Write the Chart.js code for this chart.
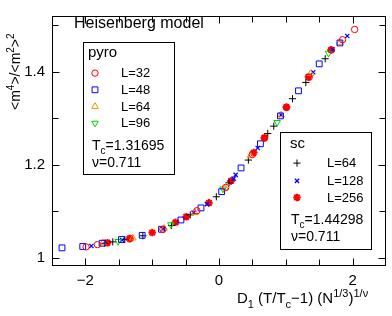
<!DOCTYPE html>
<html><head><meta charset="utf-8">
<script src="https://cdn.jsdelivr.net/npm/chart.js@4/dist/chart.umd.min.js"></script>
<style>html,body{margin:0;padding:0;background:#fff}</style>
</head><body>
<canvas id="c" width="392" height="316"></canvas>
<script>
// ---- data ----
const xLabelValues = [-2, 0, 2];
const xLabelTexts = ['\u22122', '0', '2'];
const xTickMarks = [-2, -1.5, -1, -0.5, 0, 0.5, 1, 1.5, 2];
const yLabelValues = [1, 1.2, 1.4];
const yLabelTexts = ['1', '1.2', '1.4'];
const yTickMarks = [1, 1.1, 1.2, 1.3, 1.4, 1.5];

const pyroL32 = [[-1.99,1.023],[-1.82,1.028],[-1.33,1.041],[-0.84,1.061],[-0.33,1.101],[0.10,1.151],[0.50,1.222],[0.68,1.257],[1.01,1.323],[1.35,1.388],[1.68,1.447],[1.85,1.469],[2.03,1.491]];
const pyroL48 = [[-2.35,1.021],[-2.04,1.024],[-1.75,1.031],[-1.46,1.039],[-1.15,1.048],[-0.86,1.061],[-0.57,1.081],[-0.27,1.107],[0.04,1.142],[0.33,1.193],[0.62,1.245],[0.92,1.305],[1.19,1.359],[1.50,1.417],[1.81,1.462]];
const pyroL64 = [[-1.74,1.032],[-1.29,1.042],[-0.82,1.063],[-0.36,1.097],[0.09,1.150],[0.47,1.219],[0.93,1.307],[1.37,1.396],[1.81,1.463]];
const pyroL96 = [[-1.51,1.035],[-0.72,1.071],[0.06,1.148],[0.87,1.291],[1.64,1.440]];
const scL64 = [[-1.71,1.031],[-1.59,1.034],[-1.41,1.039],[-1.14,1.047],[-0.71,1.069],[-0.43,1.092],[-0.04,1.131],[0.15,1.161],[0.44,1.210],[0.73,1.267],[0.82,1.283],[1.10,1.342],[1.30,1.377],[1.59,1.428]];
const scL128 = [[-1.91,1.025],[-1.45,1.038],[-0.84,1.062],[-0.38,1.097],[-0.18,1.115],[0.22,1.170],[0.25,1.178],[0.58,1.236],[0.93,1.307],[1.41,1.399],[1.70,1.448],[1.92,1.477]];
const scL256 = [[-1.67,1.032],[-1.34,1.041],[-1.00,1.054],[-0.65,1.076],[-0.49,1.088],[-0.15,1.118],[0.18,1.165],[0.52,1.226],[0.68,1.258],[1.01,1.324],[1.34,1.389],[1.68,1.447]];

const pyroLabels = ['L=32', 'L=48', 'L=64', 'L=96'];
const scLabels = ['L=64', 'L=128', 'L=256'];
const pyroTc = '1.31695', pyroNu = '0.711';
const scTc = '1.44298', scNu = '0.711';
const titleText = 'Heisenberg model';

// ---- styles ----
const FONT = '"Liberation Sans", Arial, Helvetica, sans-serif';
const styles = [
  {color:'#ff0000', pointStyle:'circle', radius:3.2, rotation:0, borderWidth:1},
  {color:'#0000ff', pointStyle:'rect', radius:4.1, rotation:0, borderWidth:1},
  {color:'#ff8c00', pointStyle:'triangle', radius:3.8, rotation:0, borderWidth:1},
  {color:'#00d000', pointStyle:'triangle', radius:3.8, rotation:180, borderWidth:1},
  {color:'#000000', pointStyle:'cross', radius:3.6, rotation:0, borderWidth:1},
  {color:'#0000ff', pointStyle:'crossRot', radius:3.0, rotation:0, borderWidth:1.3},
  {color:'#ff0000', pointStyle:'star', radius:3.8, rotation:0, borderWidth:2}
];
const seriesData = [pyroL32, pyroL48, pyroL64, pyroL96, scL64, scL128, scL256];
const seriesNames = ['pyro L=32','pyro L=48','pyro L=64','pyro L=96','sc L=64','sc L=128','sc L=256'];

const datasets = seriesData.map((d, i) => ({
  label: seriesNames[i],
  data: d.map(p => ({x: p[0], y: p[1]})),
  pointStyle: styles[i].pointStyle,
  pointRadius: styles[i].radius,
  pointRotation: styles[i].rotation,
  pointBorderWidth: styles[i].borderWidth,
  borderColor: styles[i].color,
  backgroundColor: 'rgba(0,0,0,0)',
  showLine: false
}));

function richText(ctx, x, y, segs, size) {
  let cx = x;
  for (const [t, k] of segs) {
    const s = k === 0 ? size : Math.round(size * 0.7);
    ctx.font = s + 'px ' + FONT;
    const dy = k === 1 ? -size * 0.42 : (k === -1 ? size * 0.28 : 0);
    ctx.fillText(t, cx, y + dy);
    cx += ctx.measureText(t).width;
  }
  return cx;
}

function drawSym(ctx, i, x, y) {
  const st = styles[i];
  ctx.save();
  ctx.strokeStyle = st.color;
  ctx.fillStyle = 'rgba(0,0,0,0)';
  ctx.lineWidth = st.borderWidth;
  Chart.helpers.drawPoint(ctx, {pointStyle: st.pointStyle, radius: st.radius, rotation: st.rotation, borderWidth: st.borderWidth}, x, y);
  ctx.restore();
}

const decor = {
  id: 'decor',
  afterDatasetsDraw(chart) {
    const ctx = chart.ctx;
    const a = chart.chartArea;
    const xs = chart.scales.x, ys = chart.scales.y;
    ctx.save();
    ctx.strokeStyle = '#000';
    ctx.lineWidth = 1;
    // frame
    const L = Math.round(a.left) + 0.5, R = Math.round(a.right) - 0.5;
    const T = Math.round(a.top) + 0.5, B = Math.round(a.bottom) - 0.5;
    ctx.strokeRect(L, T, R - L, B - T);
    // inward ticks
    ctx.beginPath();
    for (const v of xTickMarks) {
      const px = Math.round(xs.getPixelForValue(v)) + 0.5;
      const len = xLabelValues.includes(v) ? 7 : 6;
      ctx.moveTo(px, B); ctx.lineTo(px, B - len);
      ctx.moveTo(px, T); ctx.lineTo(px, T + len);
    }
    for (const v of yTickMarks) {
      const py = Math.round(ys.getPixelForValue(v)) + 0.5;
      const len = yLabelValues.includes(v) ? 7 : 6;
      ctx.moveTo(L, py); ctx.lineTo(L + len, py);
      ctx.moveTo(R, py); ctx.lineTo(R - len, py);
    }
    ctx.stroke();

    ctx.fillStyle = '#000';
    ctx.textBaseline = 'alphabetic';
    ctx.textAlign = 'left';
    // title
    ctx.font = '16px ' + FONT;
    ctx.fillText(titleText, 74, 28);

    // pyro box
    ctx.fillStyle = '#fff';
    ctx.fillRect(83.5, 42.5, 91, 132);
    ctx.strokeRect(83.5, 42.5, 91, 132);
    ctx.fillStyle = '#000';
    ctx.font = '15px ' + FONT;
    ctx.fillText('pyro', 88, 57);
    const pyBase = [77.3, 94, 110.7, 127.3];
    for (let i = 0; i < 4; i++) {
      drawSym(ctx, i, 95, pyBase[i] - 4.2);
      ctx.fillStyle = '#000';
      ctx.font = '13px ' + FONT;
      ctx.fillText(pyroLabels[i], 121, pyBase[i]);
    }
    richText(ctx, 92, 150, [['T',0],['c',-1],['=' + pyroTc,0]], 14);
    richText(ctx, 92, 166.7, [['\u03bd=' + pyroNu,0]], 14);

    // sc box
    ctx.fillStyle = '#fff';
    ctx.fillRect(280.5, 132.5, 91, 117);
    ctx.strokeRect(280.5, 132.5, 91, 117);
    ctx.fillStyle = '#000';
    ctx.font = '15px ' + FONT;
    ctx.fillText('sc', 290, 148.3);
    const scBase = [167.3, 185, 201.7];
    for (let i = 0; i < 3; i++) {
      drawSym(ctx, 4 + i, 297, scBase[i] - 4.2);
      ctx.fillStyle = '#000';
      ctx.font = '13px ' + FONT;
      ctx.fillText(scLabels[i], 327, scBase[i]);
    }
    richText(ctx, 291, 224, [['T',0],['c',-1],['=' + scTc,0]], 14);
    richText(ctx, 291, 240.7, [['\u03bd=' + scNu,0]], 14);

    // x axis title
    richText(ctx, 237, 303.3, [['D',0],['1',-1],[' (T/T',0],['c',-1],['\u22121) (N',0],['1/3',1],[')',0],['1/\u03bd',1]], 15);
    // y axis title (rotated)
    ctx.save();
    ctx.translate(20, 110);
    ctx.rotate(-Math.PI / 2);
    richText(ctx, 0, 0, [['<m',0],['4',1],['>/<m',0],['2',1],['>',0],['2',1]], 14);
    ctx.restore();
    ctx.restore();
  }
};

new Chart(document.getElementById('c').getContext('2d'), {
  type: 'scatter',
  data: {datasets},
  options: {
    responsive: false,
    animation: false,
    devicePixelRatio: 1,
    layout: {padding: {top: 3, right: 5, left: 0, bottom: 0}},
    plugins: {legend: {display: false}, tooltip: {enabled: false}},
    scales: {
      x: {
        type: 'linear', min: -2.5, max: 2.5,
        grid: {display: false, drawTicks: false},
        border: {display: false},
        afterBuildTicks: s => { s.ticks = xLabelValues.map(v => ({value: v})); },
        ticks: {
          callback: v => { const i = xLabelValues.indexOf(v); return i >= 0 ? xLabelTexts[i] : ''; },
          padding: 6, color: '#000', font: {family: FONT, size: 15},
          maxRotation: 0, autoSkip: false
        },
        afterFit: s => { s.height = 50; }
      },
      y: {
        type: 'linear', min: 0.982, max: 1.52,
        grid: {display: false, drawTicks: false},
        border: {display: false},
        afterBuildTicks: s => { s.ticks = yLabelValues.map(v => ({value: v})); },
        ticks: {
          callback: v => { const i = yLabelValues.indexOf(v); return i >= 0 ? yLabelTexts[i] : ''; },
          padding: 7, color: '#000', font: {family: FONT, size: 15},
          autoSkip: false
        },
        afterFit: s => { s.width = 52; }
      }
    }
  },
  plugins: [decor]
});
</script>
</body></html>
